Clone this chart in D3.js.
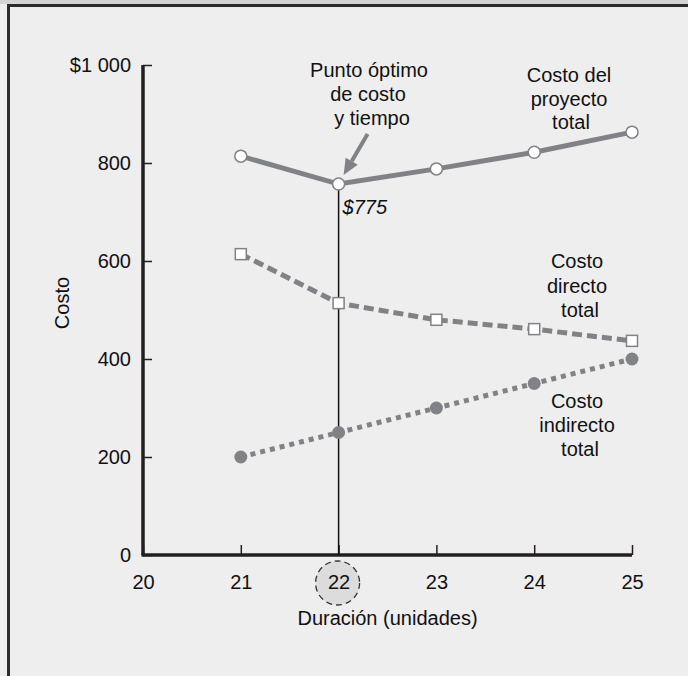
<!DOCTYPE html>
<html><head><meta charset="utf-8">
<script src="https://cdn.jsdelivr.net/npm/d3@7"></script>
<style>
html,body{margin:0;padding:0;background:#eeeeee;}
svg{display:block;font-family:"Liberation Sans",Arial,Helvetica,sans-serif;}
</style></head>
<body><svg id="c" width="688" height="676"></svg>
<script>
const durations = [21, 22, 23, 24, 25];
const totalCost = [814, 757, 788, 822, 863];
const directCost = [614, 514, 480, 461, 437];
const indirectCost = [200, 250, 300, 350, 400];
const yTicks = [0, 200, 400, 600, 800, 1000];
const xTicks = [20, 21, 22, 23, 24, 25];
const optimum = {x: 22, y: 757, label: "$775"};

const svg = d3.select("#c");
const W = 688, H = 676;
svg.append("rect").attr("width", W).attr("height", H).attr("fill", "#eeeeee");
svg.append("rect").attr("width", W).attr("height", 4).attr("fill", "#d4d4d4");
svg.append("line").attr("x1", 7).attr("x2", W).attr("y1", 5.5).attr("y2", 5.5).attr("stroke", "#2b2b2b").attr("stroke-width", 3);
svg.append("line").attr("x1", 8.5).attr("x2", 8.5).attr("y1", 4).attr("y2", H).attr("stroke", "#2b2b2b").attr("stroke-width", 3);

const x = d3.scaleLinear().domain([20, 25]).range([143, 632]);
const y = d3.scaleLinear().domain([0, 1000]).range([555, 65]);
const gray = "#818285", ink = "#231f20", fs = 20;

// Y axis
const ya = svg.append("g").attr("transform", `translate(${x(20)},0)`)
  .call(d3.axisLeft(y).tickValues(yTicks).tickSizeInner(-9).tickSizeOuter(0).tickPadding(12)
    .tickFormat(d => d === 1000 ? "$1 000" : d));
ya.select(".domain").attr("stroke", ink).attr("stroke-width", 3.5).attr("d", `M0,${y(1000)}V${y(0)}`);
ya.selectAll(".tick line").attr("stroke", ink).attr("stroke-width", 1.5);
ya.selectAll(".tick text").attr("font-size", fs).attr("fill", "#111").attr("font-family", "Liberation Sans, Arial, sans-serif");

// X axis
const xa = svg.append("g").attr("transform", `translate(0,${y(0)})`)
  .call(d3.axisBottom(x).tickValues(xTicks).tickSizeInner(-10).tickSizeOuter(0).tickPadding(20).tickFormat(d3.format("d")));
xa.select(".domain").attr("stroke", ink).attr("stroke-width", 3.5).attr("d", `M${x(20) - 1.5},0H${x(25)}`);
xa.selectAll(".tick line").attr("stroke", ink).attr("stroke-width", 1.5);
xa.selectAll(".tick text").attr("font-size", fs).attr("fill", "#111").attr("font-family", "Liberation Sans, Arial, sans-serif");

// highlight circle around optimal duration
xa.insert("circle", ":first-child").attr("cx", x(optimum.x) - 1).attr("cy", 28).attr("r", 22)
  .attr("fill", "#dcdcdc").attr("stroke", "#333").attr("stroke-width", 1.3).attr("stroke-dasharray", "6,4");

svg.append("text").attr("x", (x(20) + x(25)) / 2).attr("y", 625).attr("text-anchor", "middle")
  .attr("font-size", fs).attr("fill", "#111").text("Duración (unidades)");
svg.append("text").attr("transform", `translate(69,${(y(0) + y(1000)) / 2 - 7}) rotate(-90)`)
  .attr("text-anchor", "middle").attr("font-size", fs).attr("fill", "#111").text("Costo");

// vertical line at optimum
svg.append("line").attr("x1", x(optimum.x)).attr("x2", x(optimum.x)).attr("y1", y(optimum.y)).attr("y2", y(0))
  .attr("stroke", "#111").attr("stroke-width", 1.5);

const line = d3.line().x(d => x(d[0])).y(d => y(d[1]));
const zip = arr => durations.map((d, i) => [d, arr[i]]);

svg.append("path").datum(zip(indirectCost)).attr("d", line).attr("fill", "none")
  .attr("stroke", gray).attr("stroke-width", 5).attr("stroke-dasharray", "5,5");
svg.append("path").datum(zip(directCost)).attr("d", line).attr("fill", "none")
  .attr("stroke", gray).attr("stroke-width", 5).attr("stroke-dasharray", "10,5");
svg.append("path").datum(zip(totalCost)).attr("d", line).attr("fill", "none")
  .attr("stroke", gray).attr("stroke-width", 5);

svg.selectAll(".ind").data(zip(indirectCost)).join("circle").attr("class", "ind")
  .attr("cx", d => x(d[0])).attr("cy", d => y(d[1])).attr("r", 6.5).attr("fill", gray);
svg.selectAll(".dir").data(zip(directCost)).join("rect").attr("class", "dir")
  .attr("x", d => x(d[0]) - 5.5).attr("y", d => y(d[1]) - 5.5).attr("width", 11).attr("height", 11)
  .attr("fill", "#fff").attr("stroke", gray).attr("stroke-width", 1.5);
svg.selectAll(".tot").data(zip(totalCost)).join("circle").attr("class", "tot")
  .attr("cx", d => x(d[0])).attr("cy", d => y(d[1])).attr("r", 6).attr("fill", "#fff")
  .attr("stroke", gray).attr("stroke-width", 1.5);

// $775 label
svg.append("text").attr("x", x(optimum.x) + 4).attr("y", y(optimum.y) + 30).attr("font-size", fs)
  .attr("font-style", "italic").attr("fill", "#111").text(optimum.label);

// arrow
const tipX = x(optimum.x) + 5, tipY = y(optimum.y) - 9;
const startX = tipX + 24, startY = tipY - 41;
const ang = Math.atan2(tipY - startY, tipX - startX);
const hl = 16, hw = 7;
const bx = tipX - hl * Math.cos(ang), by = tipY - hl * Math.sin(ang);
svg.append("line").attr("x1", startX).attr("y1", startY).attr("x2", bx).attr("y2", by)
  .attr("stroke", gray).attr("stroke-width", 4);
svg.append("path").attr("fill", gray).attr("d",
  `M${tipX},${tipY}L${bx + hw * Math.sin(ang)},${by - hw * Math.cos(ang)}L${bx - hw * Math.sin(ang)},${by + hw * Math.cos(ang)}Z`);

// annotations
function block(lines, cx, y0, dy) {
  const t = svg.append("text").attr("text-anchor", "middle").attr("font-size", fs).attr("fill", "#111");
  lines.forEach((l, i) => t.append("tspan").attr("x", cx + (l[1] || 0)).attr("y", y0 + i * dy).text(l[0]));
}
block([["Punto óptimo"], ["de costo", -1], ["y tiempo", 3]], 369, 77, 24);
block([["Costo del"], ["proyecto"], ["total", 2]], 569, 82, 23.5);
block([["Costo"], ["directo"], ["total", 3]], 577, 268, 24.5);
block([["Costo"], ["indirecto"], ["total", 3]], 577, 408, 24);
</script></body></html>
